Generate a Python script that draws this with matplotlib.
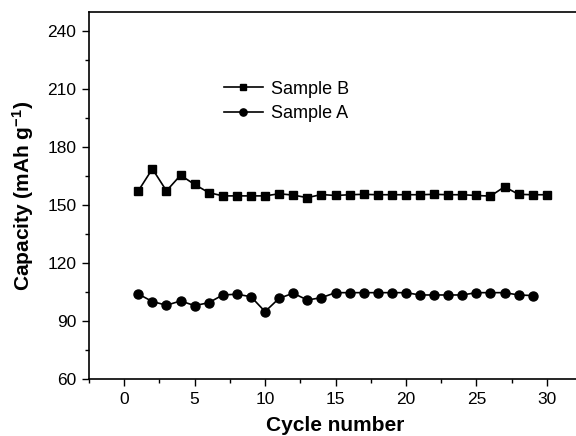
import matplotlib
matplotlib.use("Agg")
import matplotlib.pyplot as plt
from matplotlib.ticker import MultipleLocator

plt.rcParams['font.family'] = ['Liberation Sans', 'DejaVu Sans']
plt.rcParams['mathtext.default'] = 'regular'

cycles_b = list(range(1, 31))
capacity_b = [157.4, 168.8, 157.4, 165.5, 160.7, 156.5, 154.8, 154.8, 154.8, 154.8,
              155.9, 155.2, 153.9, 155.5, 155.0, 155.4, 155.6, 155.4, 155.4, 155.4,
              155.4, 155.6, 155.4, 155.4, 155.0, 154.7, 159.5, 155.6, 155.4, 155.4]
cycles_a = list(range(1, 30))
capacity_a = [104.0, 100.1, 98.2, 100.4, 98.0, 99.5, 103.5, 103.9, 102.6, 94.9,
              101.8, 104.4, 100.9, 102.1, 104.7, 104.7, 104.7, 104.7, 104.7, 104.7,
              103.5, 103.5, 103.5, 103.5, 104.7, 104.7, 104.7, 103.5, 103.2]

fig = plt.figure(figsize=(5.76, 4.36), dpi=100)
ax = fig.add_axes([89/576, 57/436, 493/576, 367/436])

ax.plot(cycles_b, capacity_b, '-s', color='black', lw=1.2, ms=6, label='Sample B')
ax.plot(cycles_a, capacity_a, '-o', color='black', lw=1.2, ms=6.5, label='Sample A')

ax.set_xlim(-2.5, 32.5)
ax.set_ylim(60, 250)
ax.xaxis.set_major_locator(MultipleLocator(5))
ax.xaxis.set_minor_locator(MultipleLocator(2.5))
ax.yaxis.set_major_locator(MultipleLocator(30))
ax.yaxis.set_minor_locator(MultipleLocator(15))
ax.tick_params(which='major', direction='out', length=5, width=1, labelsize=12.5, pad=4)
ax.tick_params(which='minor', direction='out', length=3, width=1)
ax.spines['right'].set_visible(False)
for s in ['left', 'bottom', 'top']:
    ax.spines[s].set_linewidth(1.2)

ax.set_xlabel('Cycle number', fontsize=15, fontweight='bold', labelpad=7)
ax.set_ylabel(r'Capacity (mAh g$^{-1}$)', fontsize=15, fontweight='bold', labelpad=8)

ax.legend(loc='upper left', bbox_to_anchor=(0.24, 0.857), frameon=False, fontsize=13,
          handlelength=2.2, numpoints=1, labelspacing=0.4, handletextpad=0.4,
          markerscale=0.8)

fig.savefig('out.png', dpi=100)
